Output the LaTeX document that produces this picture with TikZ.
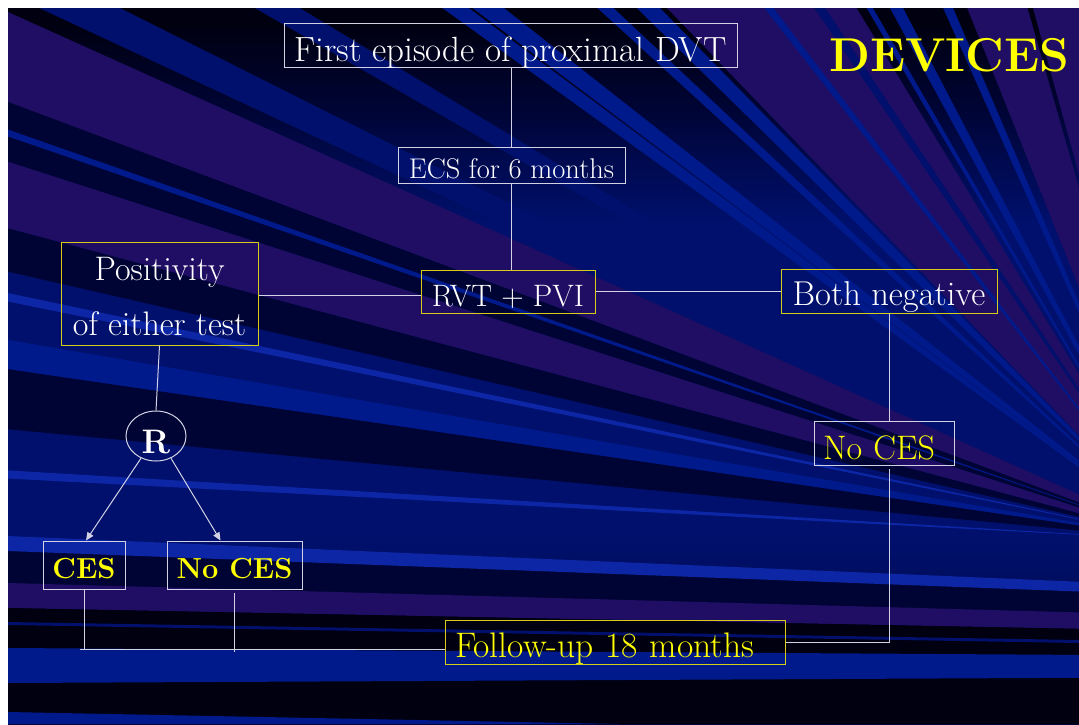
\documentclass[tikz,border=0pt]{standalone}
\usetikzlibrary{arrows.meta,shapes.geometric,calc}
\definecolor{bgk}{RGB}{0,0,16}
\definecolor{dk}{RGB}{0,4,52}
\definecolor{nv}{RGB}{0,16,108}
\definecolor{bl}{RGB}{0,26,140}
\definecolor{lbl}{RGB}{12,38,165}
\definecolor{pu}{RGB}{32,14,100}
\definecolor{wline}{RGB}{210,210,228}
\definecolor{ybord}{RGB}{215,205,25}
\definecolor{ytext}{RGB}{255,255,0}
\pgfdeclareverticalshading{bgsh}{100bp}{color(0bp)=(dk); color(25bp)=(dk); color(38bp)=(nv); color(60bp)=(nv); color(68bp)=(dk); color(74bp)=(bgk); color(100bp)=(bgk)}
\begin{document}
\begin{tikzpicture}[x=1pt,y=-1pt,
  box/.style={line width=1pt,inner sep=0pt,text=white},
  wbox/.style={box,draw=wline},
  ybox/.style={box,draw=ybord},
  conn/.style={draw=wline,line width=1pt},
  arr/.style={conn,-{Triangle[length=8pt,width=7pt]}},
  fs/.style={font=\fontsize{#1}{#1}\selectfont},
  fb/.style={font=\fontsize{#1}{#1}\selectfont\bfseries}]
\useasboundingbox (0,0) rectangle (1079,724);
\fill[white] (0,0) rectangle (1079,724);
\begin{scope}
\clip (8,8) rectangle (1079,724);
\shade[shading=bgsh] (8,8) rectangle (1079,724);
% upper rays
\foreach \a/\b/\c in {180.2/185.4/nv,185.4/188.3/dk,188.3/189.7/bl,189.7/192.9/nv,
  192.9/194.9/dk,194.9/197.9/pu,197.9/200.5/dk,200.5/204.25/pu,
  205.0/206.65/nv,209.9/211.15/nv,215.8/216.8/bl,216.94/218.2/bl,
  222.4/223.2/bl,224.4/225.65/bl,226.04/238.7/pu,239.5/240.0/bl,
  241.4/242.5/bl,246.0/246.9/bl,248.2/254.0/pu,254.55/280/pu,
  183.0/183.4/lbl,191.5/191.9/lbl,199.0/199.3/bl,232.0/232.6/bl,235.5/236.3/nv}
  {\fill[\c] (1180,540) -- +(\a:2000) -- +(\b:2000) -- cycle;}
% lower bands
\fill[dk] (8,540) -- (1079,582) -- (1079,724) -- (8,724) -- cycle;
\fill[lbl] (8,536) -- (1079,581.7) -- (1079,591.5) -- (8,551) -- cycle;
\fill[pu] (8,583) -- (1079,612.4) -- (1079,628.8) -- (8,608) -- cycle;
\fill[bgk] (8,608) -- (1079,628.8) -- (1079,724) -- (8,724) -- cycle;
\fill[nv] (8,622) -- (1079,640) -- (1079,643) -- (8,625) -- cycle;
\fill[bl] (8,648) -- (1079,654.9) -- (1079,677.8) -- (8,683) -- cycle;
\fill[bl] (8,712) -- (620,724) -- (8,724) -- cycle;
\end{scope}

% title
\node[fb=47.5,text=ytext,anchor=base] (title) at (949,71) {DEVICES};

% nodes
\node[wbox,fs=35,minimum width=453pt,text height=38pt,text depth=6pt] (first) at (510.5,45) {First episode of proximal DVT};
\node[wbox,fs=28.5,minimum width=227pt,text height=31.3pt,text depth=4.7pt] (ecs) at (511.5,165) {ECS for 6 months};
\node[ybox,fs=31,minimum width=174pt,text height=36.7pt,text depth=6.3pt] (rvt) at (508,291.5) {RVT + PVI};
\node[ybox,fs=34.5,minimum width=216pt,text height=36.7pt,text depth=7.3pt] (both) at (889,291) {Both negative};
\node[ybox,font=\fontsize{34}{55}\selectfont,minimum width=197pt,text height=93pt,text depth=10pt] (pos) at (159.5,293.5)
  {\begin{tabular}[b]{@{}c@{}}Positivity\\of either test\end{tabular}};
\node[ellipse,draw=wline,line width=1pt,inner sep=0pt,text=white,fb=34,minimum width=60pt,minimum height=50pt,text height=34pt,text depth=0pt] (R) at (156,436) {R};
\node[wbox,fb=29,text=ytext,minimum width=82pt,text height=37pt,text depth=11pt] (ces) at (84,565) {CES};
\node[wbox,fb=29,text=ytext,minimum width=135pt,text height=37pt,text depth=11pt] (noces) at (234.5,565) {No CES};
\node[wbox,fs=34,text=ytext,inner xsep=9pt,text width=122pt,align=left,text height=38.3pt,text depth=5.7pt] (noces2) at (884,443) {No CES};
\node[ybox,fs=35.5,text=ytext,inner xsep=10pt,text width=320pt,align=left,text height=37.3pt,text depth=6.7pt] (follow) at (615,642) {Follow-up 18 months};

% connectors
\coordinate (lb) at (80,649);
\draw[conn] (ecs.north) -- (ecs.north |- first.south);
\draw[conn] (ecs.south) -- (ecs.south |- rvt.north);
\draw[conn] ([yshift=-4pt]rvt.west) -- ([yshift=-4pt]rvt.west -| pos.east);
\draw[conn] (rvt.east) -- (rvt.east -| both.west);
\draw[conn] (pos.south) -- (R.north);
\draw[arr] (R.236) -- ([xshift=2pt]ces.north);
\draw[arr] (R.304) -- ([xshift=-14pt]noces.north);
\draw[conn] (ces.south) -- (ces.south |- lb);
\draw[conn] ([yshift=-3pt]noces.south) -- ([yshift=-3pt]noces.south |- lb);
\draw[conn] ([yshift=-7pt]follow.west) -- (lb);
\draw[conn] (both.south) -- (both.south |- noces2.north);
\draw[conn] (follow.east) -| ([yshift=-3pt]noces2.south -| both.south);
\end{tikzpicture}
\end{document}
